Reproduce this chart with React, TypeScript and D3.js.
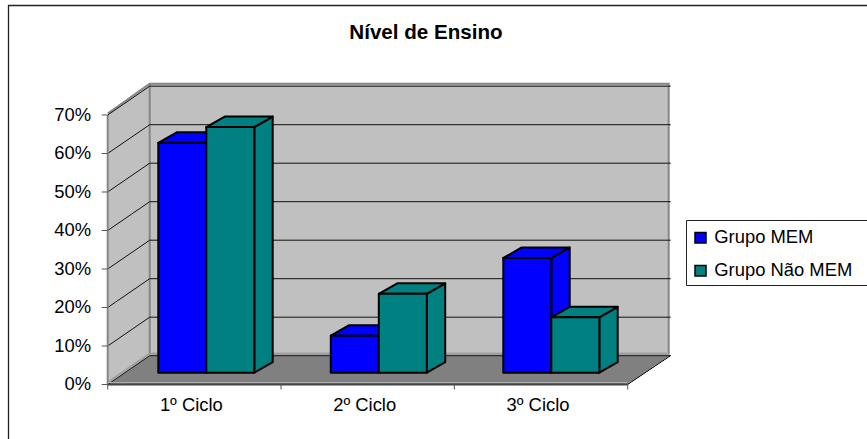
import React from "react";
import * as d3 from "d3";

const title = "Nível de Ensino";
const categories = ["1º Ciclo", "2º Ciclo", "3º Ciclo"];
const seriesNames = ["Grupo MEM", "Grupo Não MEM"];
const seriesColors = ["#0000ff", "#008080"];
const memValues = [0.597, 0.096, 0.298];
const naoMemValues = [0.638, 0.205, 0.144];
const yTicks = [0, 0.1, 0.2, 0.3, 0.4, 0.5, 0.6, 0.7];

const W = 867, H = 439;
const x0 = 107.7, x1 = 627.7;
const yBase = 384.5, yTop = 115;
const depthX = 42, depthY = -28.8;
const barDepthX = 18.4, barDepthY = -10.5;
const barBaseY = 372.7;
const font = "Liberation Sans, Arial, sans-serif";
const WALL = "#c0c0c0", FLOOR = "#808080", EDGE = "#868686", TICK = "#555555";
const FS = 18.4;

const xScale = d3.scaleBand<string>().domain(categories).range([x0, x1]);
const xBars = d3.scaleBand<string>().domain(categories).range([158.3, 158.3 + 172.5 * 3]);
const yScale = d3.scaleLinear().domain([0, 0.7]).range([yBase, yTop]);
const poly = (pts: [number, number][]) => d3.line()(pts) + "Z";

function Bar({ x, w, v, fill }: { x: number; w: number; v: number; fill: string }) {
  const b = barBaseY;
  const t = b - (yBase - yScale(v));
  const l = x, r = x + w;
  return (
    <g stroke="#000" strokeWidth={2} strokeLinejoin="round" fill={fill}>
      <path d={poly([[r, t], [r + barDepthX, t + barDepthY], [r + barDepthX, b + barDepthY], [r, b]])} />
      <path d={poly([[l, t], [l + barDepthX, t + barDepthY], [r + barDepthX, t + barDepthY], [r, t]])} />
      <path d={poly([[l, t], [r, t], [r, b], [l, b]])} />
    </g>
  );
}

export default function App() {
  const bw = 48;
  const bx = x0 + depthX, by = yBase + depthY, tx = x1 + depthX, ty = yTop + depthY;
  return (
    <svg width={W} height={H} style={{ position: "absolute", left: 0, top: 0, background: "#fff" }} fontFamily={font}>
      <path d={`M8.5,${H}V5.5H${W}`} fill="none" stroke="#222" strokeWidth={1.3} />
      <text x={426} y={39} textAnchor="middle" fontSize={20.6} fontWeight={700} fill="#000">{title}</text>

      {/* walls */}
      <path d={poly([[bx, ty - 2.5], [tx - 1, ty - 2.5], [tx - 1, by], [bx, by]])} fill={WALL} />
      <path d={poly([[x0, yTop - 1.5], [bx, ty - 2.5], [bx, by], [x0, yBase]])} fill={WALL} />
      {/* floor */}
      <path d={poly([[x0, yBase], [bx, by], [tx + 1, by], [x1, yBase]])} fill={FLOOR} />

      {/* wall edges */}
      <path d={`M${x0},${yTop - 1.5}L${bx},${ty - 2.5}H${tx - 1}V${by - 1}`} fill="none" stroke={EDGE} strokeWidth={2} />
      <path d={`M${bx},${ty - 2.5}V${by - 1}`} fill="none" stroke={EDGE} strokeWidth={2} />
      <path d={`M${bx},${by - 2}H${tx - 1}`} fill="none" stroke="#a0a0a0" strokeWidth={2.5} />
      <path d={`M${x0 + 1},${yBase - 3}L${bx},${by - 2}`} fill="none" stroke="#a0a0a0" strokeWidth={2} />

      {/* gridlines, 0% included as the black floor edge */}
      {yTicks.map((t) => (
        <path key={t} d={`M${x0},${yScale(t)}L${bx},${yScale(t) + depthY}H${tx + 1}`} fill="none" stroke="#111" strokeWidth={1} />
      ))}
      {/* right floor edge */}
      <line x1={x1} x2={tx + 1} y1={yBase} y2={by} stroke="#000" strokeWidth={1} />
      <line x1={x1 + 2} x2={tx + 1} y1={yBase} y2={by + 1} stroke="#fff" strokeWidth={1} />

      {/* axes */}
      <line x1={x0} x2={x0} y1={yTop} y2={yBase} stroke={EDGE} strokeWidth={2} />
      <line x1={x0} x2={x1} y1={yBase - 2} y2={yBase - 2} stroke="#b0b0b0" strokeWidth={1} />
      <line x1={x0} x2={x1} y1={yBase} y2={yBase} stroke="#444" strokeWidth={2} />
      {yTicks.map((t) => (
        <g key={t}>
          <line x1={x0 - 6} x2={x0} y1={yScale(t)} y2={yScale(t)} stroke={TICK} />
          <text x={91} y={yScale(t) + 5.5} textAnchor="end" fontSize={FS} fill="#000">{d3.format(".0%")(t)}</text>
        </g>
      ))}
      {[...categories.map((c) => xScale(c)!), x1].map((x) => (
        <line key={x} x1={x} x2={x} y1={yBase} y2={yBase + 5} stroke={TICK} />
      ))}
      {categories.map((c) => (
        <text key={c} x={xScale(c)! + xScale.bandwidth() / 2 - 3} y={410.7} textAnchor="middle" fontSize={FS} fill="#000">{c}</text>
      ))}

      {/* bars */}
      {categories.map((c, i) => (
        <g key={c}>
          <Bar x={xBars(c)!} w={bw} v={memValues[i]} fill={seriesColors[0]} />
          <Bar x={xBars(c)! + bw} w={bw} v={naoMemValues[i]} fill={seriesColors[1]} />
        </g>
      ))}

      {/* legend */}
      <path d={`M${W},220.5H686.5V285.5H${W}`} fill="#fff" stroke="#222" />
      {seriesNames.map((s, i) => (
        <g key={s}>
          <rect x={695} y={232.5 + i * 33} width={11} height={10.5} fill={seriesColors[i]} stroke="#000" strokeWidth={1.5} />
          <text x={714.3} y={242.7 + i * 33.2} fontSize={FS} fill="#000">{s}</text>
        </g>
      ))}
    </svg>
  );
}
